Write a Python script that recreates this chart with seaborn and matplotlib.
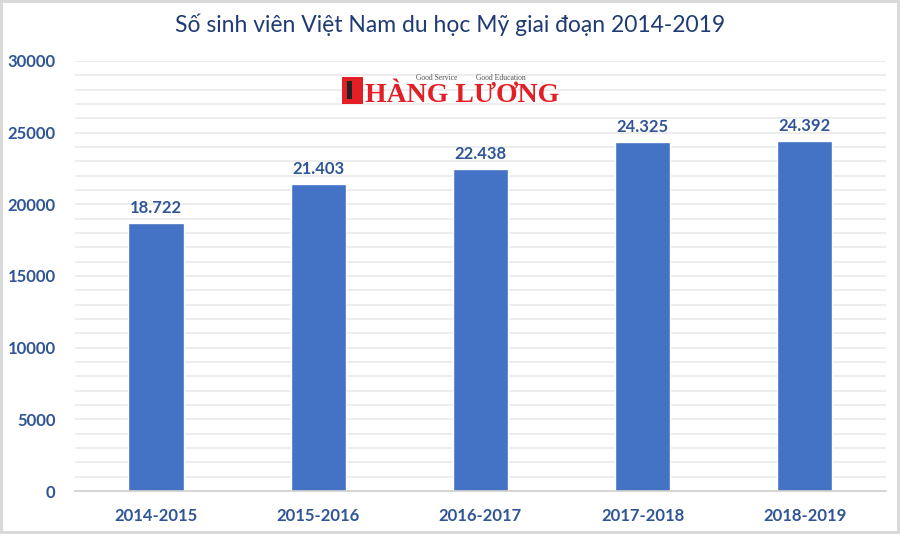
import seaborn as sns
import matplotlib.pyplot as plt
from matplotlib.patches import Rectangle
from matplotlib.ticker import MultipleLocator

# du lieu
periods = ["2014-2015", "2015-2016", "2016-2017", "2017-2018", "2018-2019"]
students = [18722, 21403, 22438, 24325, 24392]
title = "Số sinh viên Việt Nam du học Mỹ giai đoạn 2014-2019"

BAR = "#4472C4"
LABEL = "#2F5597"
TITLE = "#1F3B73"
RED = "#E31E24"

sns.set_style("white")
plt.rcParams['font.family'] = ['Lato', 'DejaVu Sans']

fig = plt.figure(figsize=(9, 5.34), dpi=100)
fig.patch.set_edgecolor("#D9D9D9")
fig.patch.set_linewidth(3)
ax = fig.add_axes([0.0833, 0.0805, 0.901, 0.8053])

sns.barplot(x=periods, y=students, color=BAR, width=0.34, ax=ax, saturation=1)

ax.set_ylim(0, 30000)
ax.yaxis.set_major_locator(MultipleLocator(5000))
ax.yaxis.set_minor_locator(MultipleLocator(1000))
ax.grid(axis="y", which="both", color="#EAEAEA", linewidth=1.2)
ax.set_axisbelow(True)
for s in ["top", "right", "left"]:
    ax.spines[s].set_visible(False)
ax.spines["bottom"].set_color("#D0D0D0")
ax.spines["bottom"].set_linewidth(1.2)
ax.tick_params(axis="both", which="both", length=0)
ax.tick_params(axis="y", pad=14)
ax.tick_params(axis="x", pad=12)
for lbl in ax.get_xticklabels() + ax.get_yticklabels():
    lbl.set_fontweight("bold")
    lbl.set_color(LABEL)
    lbl.set_fontsize(12)

ax.bar_label(ax.containers[0], labels=[f"{v:,}".replace(",", ".") for v in students],
             padding=5, fontsize=12, fontweight="bold", color=LABEL)

fig.text(0.5, 0.953, title, ha="center", va="center", fontsize=16.5, color=TITLE)

# logo
fig.patches.append(Rectangle((342 / 900, 1 - 104 / 534), 21 / 900, 27 / 534,
                             transform=fig.transFigure, facecolor=RED, edgecolor="none"))
fig.patches.append(Rectangle((347 / 900, 1 - 99 / 534), 5 / 900, 18 / 534,
                             transform=fig.transFigure, facecolor="#222222", edgecolor="none"))
fig.text(365 / 900, 1 - 95 / 534, "HÀNG LƯƠNG", ha="left", va="center", fontsize=20,
         fontweight="bold", color=RED, family="Liberation Serif")
fig.text(416 / 900, 1 - 78 / 534, "Good Service", ha="left", va="center", fontsize=5.5,
         color="#555555", family="Liberation Serif")
fig.text(476 / 900, 1 - 78 / 534, "Good Education", ha="left", va="center", fontsize=5.5,
         color="#555555", family="Liberation Serif")

fig.savefig("out.png", dpi=100)
